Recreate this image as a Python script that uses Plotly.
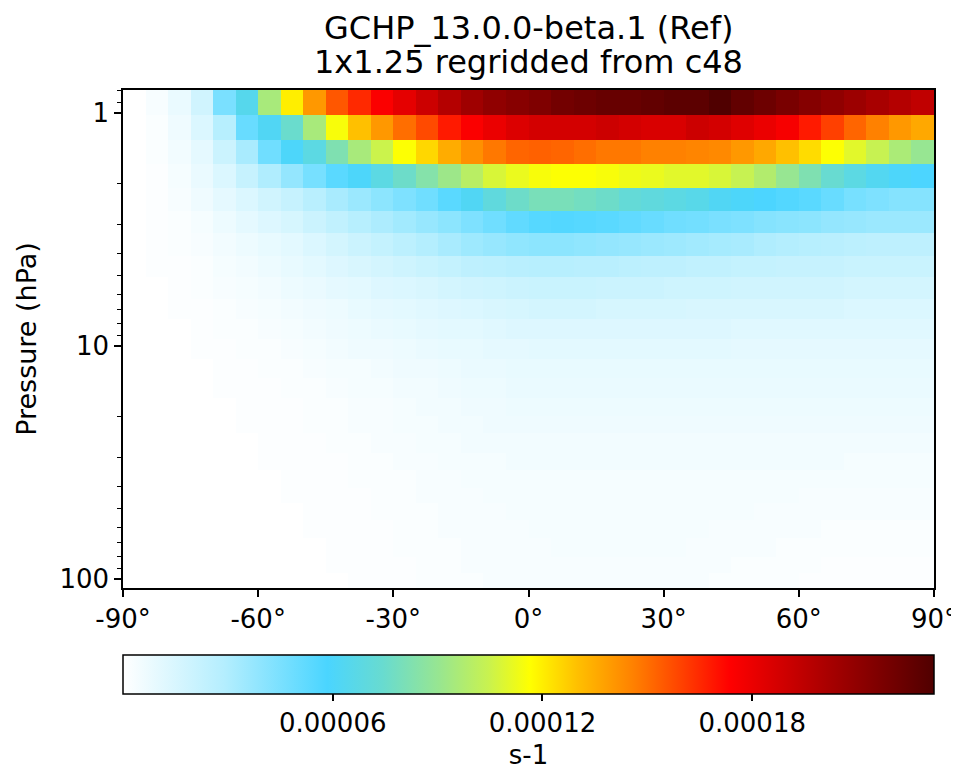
import plotly.graph_objects as go

# latitude cell edges (deg) and pressure cell edges (hPa), top of atmosphere first
lat_edges = list(range(-90, 91, 5))
p_edges = [0.797, 1.02, 1.306, 1.655, 2.099, 2.634, 3.273, 4.11, 5.056, 6.285, 7.656,
           9.333, 11.37, 13.72, 16.72, 19.97, 23.62, 28.79, 34.06, 40.68, 47.19,
           55.83, 66.69, 80.44, 94.23, 109.3]

# zonal mean values in 1e-6 s-1, one list per pressure layer (top to bottom)
lev01 = [0, 3, 8, 18, 45, 65, 95, 120, 140, 155, 165, 175, 182, 190, 198, 205, 210, 213,
         216, 220, 222, 224, 224, 226, 228, 228, 232, 226, 222, 218, 214, 210, 206, 202, 198, 194]
lev02 = [0, 2, 6, 14, 28, 50, 62, 75, 95, 115, 130, 140, 150, 158, 168, 175, 180, 185,
         188, 188, 188, 190, 188, 186, 186, 190, 188, 184, 180, 176, 168, 160, 152, 146, 140, 136]
lev03 = [0, 2, 5, 10, 20, 32, 48, 60, 68, 82, 95, 105, 116, 125, 135, 142, 148, 152,
         153, 152, 150, 148, 148, 146, 146, 145, 144, 140, 136, 130, 124, 116, 110, 104, 96, 90]
lev04 = [0, 1, 4, 8, 14, 22, 30, 38, 46, 54, 60, 68, 76, 84, 92, 100, 108, 112,
         115, 116, 116, 115, 113, 112, 110, 110, 108, 104, 98, 90, 82, 74, 68, 63, 60, 58]
lev05 = [0, 1, 3, 6, 10, 14, 18, 22, 27, 32, 36, 40, 44, 48, 54, 62, 70, 76,
         80, 80, 78, 76, 72, 70, 68, 66, 62, 60, 58, 56, 54, 50, 46, 44, 42, 42]
lev06 = [0, 1, 2, 4, 7, 10, 13, 16, 20, 24, 28, 31, 34, 37, 40, 44, 48, 52,
         55, 56, 55, 54, 52, 50, 48, 47, 45, 44, 42, 41, 40, 38, 37, 36, 36, 36]
lev07 = [0, 1, 2, 3, 5, 7, 9, 11, 14, 17, 20, 23, 26, 29, 32, 35, 37, 39,
         40, 40, 39, 38, 37, 36, 35, 34, 33, 32, 30, 29, 28, 27, 26, 25, 25, 25]
lev08 = [0, 1, 1, 2, 4, 5, 7, 9, 11, 13, 15, 17, 19, 21, 23, 25, 26, 27,
         28, 28, 27, 27, 26, 25, 25, 24, 24, 23, 23, 22, 22, 22, 21, 21, 21, 21]
lev09 = [0, 0, 1, 2, 3, 4, 5, 7, 8, 10, 11, 13, 14, 15, 17, 18, 19, 20,
         21, 21, 21, 20, 20, 20, 19, 19, 19, 18, 18, 18, 18, 18, 17, 17, 17, 17]
lev10 = [0, 0, 1, 1, 2, 3, 4, 5, 6, 7, 9, 10, 11, 12, 13, 14, 15, 16,
         17, 17, 17, 16, 16, 16, 16, 15, 15, 15, 15, 15, 15, 15, 14, 14, 14, 14]
lev11 = [0, 0, 0, 1, 2, 2, 3, 4, 5, 6, 7, 8, 9, 10, 11, 11, 12, 13,
         13, 13, 13, 13, 13, 13, 13, 13, 13, 12, 12, 12, 12, 12, 12, 12, 12, 12]
lev12 = [0, 0, 0, 1, 1, 2, 2, 3, 4, 5, 6, 6, 7, 8, 9, 9, 10, 10,
         11, 11, 11, 11, 11, 11, 11, 11, 11, 10, 10, 10, 10, 10, 10, 10, 10, 10]
lev13 = [0, 0, 0, 0, 1, 1, 2, 2, 3, 4, 4, 5, 6, 6, 7, 8, 8, 9,
         9, 9, 9, 9, 9, 9, 9, 9, 9, 9, 9, 9, 9, 9, 9, 9, 9, 9]
lev14 = [0, 0, 0, 0, 1, 1, 1, 2, 2, 3, 4, 4, 5, 5, 6, 7, 7, 8,
         8, 8, 8, 8, 8, 8, 8, 8, 8, 8, 8, 8, 8, 8, 8, 8, 8, 8]
lev15 = [0, 0, 0, 0, 0, 1, 1, 1, 2, 2, 3, 3, 4, 5, 5, 6, 6, 7,
         7, 7, 7, 7, 7, 7, 7, 7, 7, 7, 7, 7, 7, 7, 7, 7, 7, 7]
lev16 = [0, 0, 0, 0, 0, 1, 1, 1, 2, 2, 3, 3, 4, 4, 5, 5, 6, 6,
         6, 6, 6, 6, 6, 6, 6, 6, 6, 6, 6, 6, 6, 6, 6, 6, 6, 6]
lev17 = [0, 0, 0, 0, 0, 0, 1, 1, 1, 2, 2, 3, 3, 4, 4, 5, 5, 5,
         5, 5, 5, 5, 5, 5, 5, 5, 5, 5, 5, 5, 5, 5, 5, 5, 5, 5]
lev18 = [0, 0, 0, 0, 0, 0, 1, 1, 1, 1, 2, 2, 3, 3, 4, 4, 4, 5,
         5, 5, 5, 5, 5, 5, 5, 5, 5, 5, 5, 5, 5, 5, 4, 4, 4, 4]
lev19 = [0, 0, 0, 0, 0, 0, 0, 1, 1, 1, 2, 2, 2, 3, 3, 4, 4, 4,
         4, 4, 4, 4, 4, 4, 4, 4, 4, 4, 4, 4, 4, 4, 4, 4, 4, 4]
lev20 = [0, 0, 0, 0, 0, 0, 0, 1, 1, 1, 1, 2, 2, 3, 3, 3, 4, 4,
         4, 4, 4, 4, 4, 4, 4, 4, 4, 4, 4, 4, 3, 3, 3, 3, 3, 3]
lev21 = [0, 0, 0, 0, 0, 0, 0, 0, 1, 1, 1, 2, 2, 2, 3, 3, 3, 4,
         4, 4, 4, 4, 4, 4, 4, 4, 4, 4, 3, 3, 3, 3, 3, 3, 3, 3]
lev22 = [0, 0, 0, 0, 0, 0, 0, 0, 1, 1, 1, 1, 2, 2, 3, 3, 3, 3,
         4, 4, 4, 4, 4, 4, 4, 4, 3, 3, 3, 3, 3, 2, 2, 2, 2, 2]
lev23 = [0, 0, 0, 0, 0, 0, 0, 0, 0, 1, 1, 1, 2, 2, 2, 3, 3, 3,
         3, 4, 4, 4, 4, 4, 4, 3, 3, 3, 3, 2, 2, 2, 2, 2, 2, 2]
lev24 = [0, 0, 0, 0, 0, 0, 0, 0, 0, 1, 1, 1, 1, 2, 2, 3, 3, 3,
         3, 3, 3, 3, 3, 3, 3, 3, 3, 2, 2, 2, 2, 1, 1, 1, 1, 1]
lev25 = [0, 0, 0, 0, 0, 0, 0, 0, 0, 0, 1, 1, 1, 2, 2, 2, 3, 3,
         3, 3, 3, 3, 3, 3, 3, 3, 2, 2, 2, 2, 1, 1, 1, 1, 1, 1]

levels = [lev01, lev02, lev03, lev04, lev05, lev06, lev07, lev08, lev09, lev10, lev11, lev12, lev13,
          lev14, lev15, lev16, lev17, lev18, lev19, lev20, lev21, lev22, lev23, lev24, lev25]
z = [[v * 1e-6 for v in row] for row in levels]

cbar_ticks = [0.00006, 0.00012, 0.00018]
cbar_text = ['0.00006', '0.00012', '0.00018']
lat_ticks = [-90, -60, -30, 0, 30, 60, 90]
lat_text = [f'{t}°' for t in lat_ticks]
title_lines = ['GCHP_13.0.0-beta.1 (Ref)', '1x1.25 regridded from c48']

# white -> blue -> green -> yellow -> red -> dark red
cmap = [
    [0.0, '#ffffff'], [0.125, '#b4eefe'], [0.252, '#4ad5ff'], [0.32, '#68dbd0'],
    [0.39, '#98e690'], [0.45, '#c8f250'], [0.502, '#ffff00'], [0.56, '#ffc000'],
    [0.63, '#ff8000'], [0.69, '#ff4000'], [0.748, '#ff0000'], [0.87, '#a80000'],
    [1.0, '#500000'],
]

FONT = 'DejaVu Sans'

fig = go.Figure(go.Heatmap(
    x=lat_edges, y=p_edges, z=z,
    colorscale=cmap, zmin=0, zmax=0.000232,
    colorbar=dict(
        orientation='h', x=0.5, xanchor='center', y=-0.1345, yanchor='top',
        len=1.0, lenmode='fraction', thickness=39, xpad=0, ypad=0,
        outlinecolor='black', outlinewidth=1.5,
        tickmode='array', tickvals=cbar_ticks, ticktext=cbar_text,
        ticks='outside', ticklen=7, tickwidth=1.5, tickcolor='black',
        tickfont=dict(family=FONT, size=26, color='black'),
        title=dict(text='s-1', side='bottom', font=dict(family=FONT, size=26, color='black')),
    ),
))

# page body has an 8px margin, so the figure is sized to fit inside the window
fig.update_layout(
    width=951, height=769,
    margin=dict(l=115, r=25, t=82, b=189, pad=0, autoexpand=False),
    paper_bgcolor='white', plot_bgcolor='white',
    font=dict(family=FONT, color='black'),
    annotations=[
        dict(text=title_lines[0], xref='paper', yref='paper', x=0.5, y=1.1245,
             xanchor='center', yanchor='middle', showarrow=False,
             font=dict(family=FONT, size=32, color='black')),
        dict(text=title_lines[1], xref='paper', yref='paper', x=0.5, y=1.0562,
             xanchor='center', yanchor='middle', showarrow=False,
             font=dict(family=FONT, size=32, color='black')),
    ],
)
fig.update_xaxes(
    range=[-90, 90], tickmode='array', tickvals=lat_ticks, ticktext=lat_text,
    ticks='outside', ticklen=7, tickwidth=1.5, tickcolor='black',
    tickfont=dict(family=FONT, size=26), automargin=False,
    showline=True, linecolor='black', linewidth=1.5, mirror=True,
    showgrid=False, zeroline=False,
)
fig.update_yaxes(
    type='log', range=[2.0386, -0.0985],
    tickmode='array', tickvals=[1, 10, 100], ticktext=['1', '10', '100'],
    ticks='outside', ticklen=7, tickwidth=1.5, tickcolor='black',
    tickfont=dict(family=FONT, size=26), automargin=False,
    minor=dict(tickmode='array',
               tickvals=[0.8, 0.9, 2, 3, 4, 5, 6, 7, 8, 9, 20, 30, 40, 50, 60, 70, 80, 90],
               ticks='outside', ticklen=4, tickwidth=1.2, tickcolor='black', showgrid=False),
    showline=True, linecolor='black', linewidth=1.5, mirror=True,
    showgrid=False, zeroline=False,
    title=dict(text='Pressure (hPa)', font=dict(family=FONT, size=27), standoff=15),
)

fig.write_html('out.html')
